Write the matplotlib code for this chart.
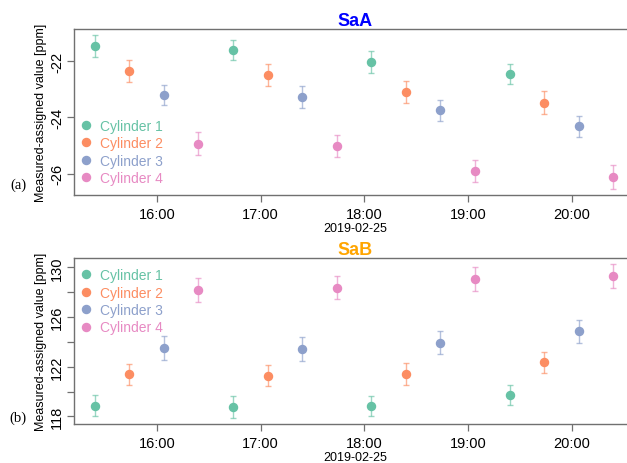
# SaA / SaB の測定値-割当値を時刻ごとに描画

import pandas as pd
import matplotlib.pyplot as plt
import matplotlib.dates as mdates

plt.rcParams["font.family"] = ["Liberation Sans", "DejaVu Sans"]

# --- データ ---
date = "2019-02-25"
labels = ["Cylinder 1", "Cylinder 2", "Cylinder 3", "Cylinder 4"]
colors = ["#66c2a5", "#fc8d62", "#8da0cb", "#e78ac3"]

c1_times = ["15:24", "16:44", "18:04", "19:24"]
c2_times = ["15:44", "17:04", "18:24", "19:44"]
c3_times = ["16:04", "17:24", "18:44", "20:04"]
c4_times = ["16:24", "17:44", "19:04", "20:24"]

saa_c1 = [-21.45, -21.60, -22.02, -22.44]
saa_c1_err = [0.40, 0.36, 0.39, 0.35]
saa_c2 = [-22.35, -22.50, -23.10, -23.48]
saa_c2_err = [0.39, 0.39, 0.39, 0.41]
saa_c3 = [-23.19, -23.27, -23.74, -24.31]
saa_c3_err = [0.36, 0.40, 0.37, 0.37]
saa_c4 = [-24.93, -25.03, -25.92, -26.14]
saa_c4_err = [0.42, 0.39, 0.40, 0.43]

sab_c1 = [118.85, 118.77, 118.85, 119.72]
sab_c1_err = [0.83, 0.90, 0.82, 0.81]
sab_c2 = [121.39, 121.27, 121.39, 122.35]
sab_c2_err = [0.86, 0.85, 0.89, 0.87]
sab_c3 = [123.51, 123.43, 123.94, 124.85]
sab_c3_err = [0.95, 0.97, 0.91, 0.94]
sab_c4 = [128.19, 128.35, 129.05, 129.31]
sab_c4_err = [0.97, 0.93, 0.97, 0.98]

times = [c1_times, c2_times, c3_times, c4_times]
saa = [saa_c1, saa_c2, saa_c3, saa_c4]
saa_err = [saa_c1_err, saa_c2_err, saa_c3_err, saa_c4_err]
sab = [sab_c1, sab_c2, sab_c3, sab_c4]
sab_err = [sab_c1_err, sab_c2_err, sab_c3_err, sab_c4_err]

spine_col = "#707070"

fig = plt.figure(figsize=(6.27, 4.64), dpi=100)
axA = fig.add_axes([0.118, 0.578, 0.896, 0.357])
axB = fig.add_axes([0.118, 0.084, 0.896, 0.357])


def draw(ax, vals, errs, title, tcolor, ylim, yticks, ylabels, legend_loc, anchor):
    for t, v, e, c, lab in zip(times, vals, errs, colors, labels):
        x = pd.to_datetime([f"{date} {s}" for s in t])
        ax.errorbar(x, v, yerr=e, fmt="none", ecolor=c, alpha=0.65,
                    elinewidth=1.0, capsize=2.5, capthick=1.0)
        ax.plot(x, v, "o", color=c, markersize=5.8, label=lab)
    ax.set_xlim(pd.Timestamp(f"{date} 15:12"), pd.Timestamp(f"{date} 20:37"))
    ax.set_ylim(*ylim)
    ax.xaxis.set_major_locator(mdates.HourLocator())
    ax.xaxis.set_major_formatter(mdates.DateFormatter("%H:%M"))
    ax.set_yticks(yticks)
    ax.set_yticklabels(ylabels, rotation=90, va="center")
    ax.tick_params(axis="both", colors=spine_col, labelcolor="black",
                   labelsize=10.5, length=5, width=0.9)
    ax.tick_params(axis="y", pad=2)
    for s in ax.spines.values():
        s.set_color(spine_col)
        s.set_linewidth(1.0)
    ax.set_title(title, color=tcolor, fontweight="bold", fontsize=13, pad=1)
    ax.set_xlabel(date, fontsize=9, labelpad=1)
    ax.set_ylabel("Measured-assigned value [ppm]", fontsize=9, labelpad=2)
    ax.legend(loc=legend_loc, bbox_to_anchor=anchor, frameon=False,
              fontsize=10, handlelength=1.0, handletextpad=0.5,
              labelspacing=0.25, borderaxespad=0, borderpad=0.4,
              labelcolor="markerfacecolor")


draw(axA, saa, saa_err, "SaA", "blue", (-26.76, -20.85),
     [-22, -24, -26], ["-22", "-24", "-26"], "lower left", (0.0, 0.025))
draw(axB, sab, sab_err, "SaB", "orange", (117.38, 130.73),
     [118, 120, 122, 124, 126, 128, 130],
     ["118", "", "122", "", "126", "", "130"], "upper left", (0.0, 0.975))

fig.text(18 / 627, 1 - 185 / 464, "(a)", family="Liberation Serif",
         fontsize=10.5, ha="center", va="center")
fig.text(18 / 627, 1 - 418 / 464, "(b)", family="Liberation Serif",
         fontsize=10.5, ha="center", va="center")

fig.savefig("out.png", dpi=100)
